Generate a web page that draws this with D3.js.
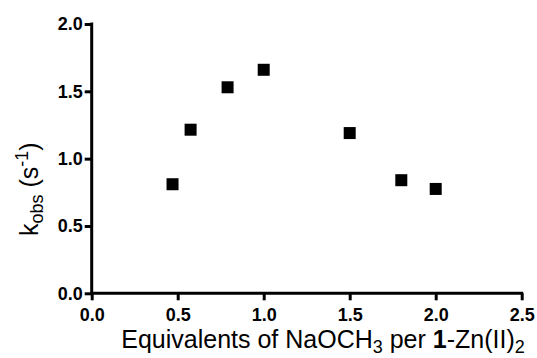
<!DOCTYPE html>
<html>
<head>
<meta charset="utf-8">
<script src="https://cdn.jsdelivr.net/npm/d3@7"></script>
<style>
  body { margin: 0; background: #fff; }
  svg { display: block; }
</style>
</head>
<body>
<svg id="chart" width="537" height="358"></svg>
<script>
'use strict';

// data
const equivalents = [0.47, 0.575, 0.79, 1.0, 1.5, 1.8, 2.0];
const kObs = [0.81, 1.215, 1.53, 1.66, 1.19, 0.84, 0.775];
const xTicks = [0, 0.5, 1.0, 1.5, 2.0, 2.5];
const yTicks = [0, 0.5, 1.0, 1.5, 2.0];

const margin = { left: 91.7, right: 15.3, top: 24, bottom: 64.7 };
const width = 537;
const height = 358;
const font = 'Arial, "Liberation Sans", sans-serif';

const svg = d3.select('#chart');

const x = d3.scaleLinear().domain([0, 2.5]).range([margin.left, width - margin.right]);
const y = d3.scaleLinear().domain([0, 2.0]).range([height - margin.bottom, margin.top]);

const xAxis = svg
  .append('g')
  .attr('transform', `translate(0,${y(0)})`)
  .call(d3.axisBottom(x).tickValues(xTicks).tickFormat(d3.format('.1f')).tickSize(7).tickPadding(8));

const yAxis = svg
  .append('g')
  .attr('transform', `translate(${x(0)},0)`)
  .call(d3.axisLeft(y).tickValues(yTicks).tickFormat(d3.format('.1f')).tickSize(7).tickPadding(2));

[xAxis, yAxis].forEach((g) => {
  g.select('.domain').attr('stroke', '#000').attr('stroke-width', 3).attr('stroke-linecap', 'square');
  g.selectAll('.tick line').attr('stroke', '#000').attr('stroke-width', 3);
  g.selectAll('.tick text')
    .style('font-family', font)
    .style('font-weight', 'bold')
    .style('font-size', '18px')
    .style('fill', '#000');
});
// drop the outer tick stubs d3 draws on the domain path
xAxis.select('.domain').attr('d', `M${x(0)},0H${x(2.5)}`);
yAxis.select('.domain').attr('d', `M0,${y(0)}V${y(2.0)}`);

const size = 12;
svg
  .append('g')
  .selectAll('rect')
  .data(equivalents)
  .join('rect')
  .attr('x', (d) => x(d) - size / 2)
  .attr('y', (d, i) => y(kObs[i]) - size / 2)
  .attr('width', size)
  .attr('height', size)
  .attr('fill', '#000');

// x title
const xt = svg
  .append('text')
  .style('font-family', font)
  .style('font-size', '25px')
  .attr('x', 323)
  .attr('y', 348)
  .attr('text-anchor', 'middle');
xt.append('tspan').text('Equivalents of NaOCH');
xt.append('tspan').style('font-size', '18px').attr('dy', 5).text('3');
xt.append('tspan').attr('dy', -5).text(' per ');
xt.append('tspan').style('font-weight', 'bold').text('1');
xt.append('tspan').text('-Zn(II)');
xt.append('tspan').style('font-size', '18px').attr('dy', 5).text('2');

// y title
const yt = svg
  .append('text')
  .style('font-family', font)
  .style('font-size', '25px')
  .attr('transform', 'translate(38,236) rotate(-90)')
  .attr('text-anchor', 'start');
yt.append('tspan').text('k');
yt.append('tspan').style('font-size', '18px').attr('dy', 5).text('obs');
yt.append('tspan').attr('dy', -5).text(' (s');
yt.append('tspan').style('font-size', '18px').attr('dy', -10).text('-1');
yt.append('tspan').attr('dy', 10).text(')');
</script>
</body>
</html>
